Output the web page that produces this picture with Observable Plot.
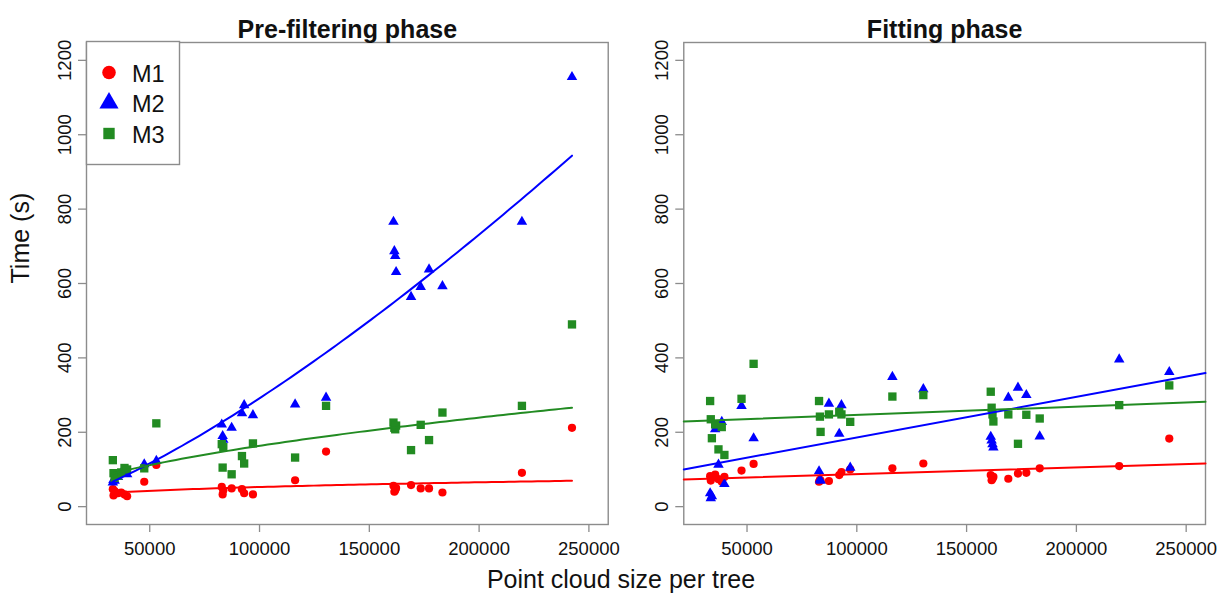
<!DOCTYPE html>
<html>
<head>
<meta charset="utf-8">
<script src="https://cdn.jsdelivr.net/npm/d3@7"></script>
<script src="https://cdn.jsdelivr.net/npm/@observablehq/plot@0.6"></script>
<style>
  body { margin: 0; background: #fff; }
  #chart { position: relative; width: 1227px; height: 598px; font-family: "Liberation Sans", Arial, Helvetica, sans-serif; color: #111; }
  #chart svg { display: block; }
  #legend { position: absolute; left: 0; top: 0; pointer-events: none; }
  #xlabel { position: absolute; left: 0; width: 1242px; top: 564px; text-align: center; font-size: 25px; line-height: 30px; }
</style>
</head>
<body>
<div id="chart"></div>
<script>
// Panels, methods and styling keys
const phases = ["Pre-filtering phase", "Fitting phase"];
const methods = ["M1", "M2", "M3"];
const methodColors = ["#ff0000", "#0000ff", "#228b22"];
const methodSymbols = ["circle", "triangle", "square"];

// Axis ticks
const xTicks = [50000, 100000, 150000, 200000, 250000];
const yTicks = [0, 200, 400, 600, 800, 1000, 1200];
const xLimits = [30000, 250000];
const yLimits = [0, 1200];

// Point cloud size of each tree
const treeSize = [33200, 33500, 34000, 35500, 37000, 38500, 39700, 47500, 53000,
  82800, 83200, 83500, 87300, 92000, 93000, 97000, 116200, 130300,
  161000, 161400, 161800, 162200, 169000, 173400, 177200, 183300, 219500, 242300];

// Processing time (s), pre-filtering phase
const preM1 = [47, 30, 42, 36, 38, 33, 28, 67, 112, 53, 33, 44, 49, 47, 36, 33, 71, 148,
  56, 40, 44, 50, 58, 49, 49, 38, 91, 212];
const preM2 = [65, 72, 70, 80, 90, 96, 87, 114, 123, 221, 190, 180, 212, 251, 273, 246, 275, 293,
  766, 687, 674, 631, 564, 591, 638, 593, 766, 1155];
const preM3 = [125, 90, 78, 83, 92, 104, 100, 103, 224, 168, 105, 160, 87, 136, 116, 170, 132, 271,
  226, 212, 208, 218, 152, 220, 179, 253, 271, 490];

// Processing time (s), fitting phase
const fitM1 = [82, 70, 78, 86, 74, 67, 80, 97, 115, 67, 72, 70, 69, 85, 93, 100, 103, 116,
  85, 71, 75, 80, 75, 89, 91, 103, 109, 183];
const fitM2 = [36, 23, 28, 208, 113, 228, 61, 271, 184, 95, 73, 70, 277, 196, 273, 105, 349, 316,
  188, 178, 168, 159, 293, 320, 300, 189, 396, 362];
const fitM3 = [284, 235, 184, 221, 154, 214, 139, 290, 384, 284, 242, 201, 248, 255, 248, 228, 296, 300,
  309, 266, 248, 229, 248, 169, 247, 237, 273, 326];

const seriesByPhase = [[preM1, preM2, preM3], [fitM1, fitM2, fitM3]];

// Long table: one row per tree, method and phase
const rows = [];
phases.forEach((phase, p) => {
  methods.forEach((method, m) => {
    seriesByPhase[p][m].forEach((t, i) => rows.push({phase, method, size: treeSize[i], time: t}));
  });
});

// R-style 4% axis padding
const pad = ([a, b]) => [a - 0.04 * (b - a), b + 0.04 * (b - a)];
const xDomain = pad(xLimits);
const yDomain = pad(yLimits);

// Least-squares helper
function lsq(xs, ys) {
  const mx = d3.mean(xs), my = d3.mean(ys);
  const sxy = d3.sum(xs, (x, i) => (x - mx) * (ys[i] - my));
  const sxx = d3.sum(xs, x => (x - mx) ** 2);
  const b = sxy / sxx;
  return {a: my - b * mx, b};
}

// Pre-filtering: power-law fit (log-log), drawn over the observed size range
const fitRows = [];
methods.forEach((method, m) => {
  const ys = seriesByPhase[0][m];
  const {a, b} = lsq(treeSize.map(Math.log), ys.map(Math.log));
  const [lo, hi] = d3.extent(treeSize);
  const n = 80;
  for (let k = 0; k <= n; ++k) {
    const x = lo + (hi - lo) * k / n;
    fitRows.push({phase: phases[0], method, size: x, time: Math.exp(a + b * Math.log(x))});
  }
});
// Fitting phase: straight-line fit, drawn across the whole panel
methods.forEach((method, m) => {
  const ys = seriesByPhase[1][m];
  const {a, b} = lsq(treeSize, ys);
  xDomain.forEach(x => fitRows.push({phase: phases[1], method, size: x, time: a + b * x}));
});

const pointSize = {circle: 4.1, triangle: 3.9, square: 4.7};
const grey = "#8c8c8c";

const chart = Plot.plot({
  width: 1227,
  height: 598,
  marginLeft: 86,
  marginRight: 22,
  marginTop: 42,
  marginBottom: 74,
  style: {fontFamily: '"Liberation Sans", Arial, Helvetica, sans-serif', fontSize: "18.5px", color: "#111", background: "#fff"},
  fx: {domain: phases, paddingInner: 0.1265, paddingOuter: 0, round: false, axis: null},
  x: {domain: xDomain},
  y: {domain: yDomain},
  marks: [
    Plot.frame({stroke: grey, strokeWidth: 1.4}),
    Plot.axisX({ticks: xTicks, tickFormat: d => String(d), tickSize: 8, tickPadding: 9,
      label: null, stroke: grey, strokeWidth: 1.3, fill: "#111", fontSize: 18.5}),
    Plot.axisY({ticks: yTicks, tickSize: 8, label: null, stroke: grey, strokeWidth: 1.3,
      text: null, facetAnchor: null}),
    Plot.axisY({ticks: yTicks, tickFormat: d => String(d), tickSize: 0, tickRotate: -90, tickPadding: 10,
      label: null, fill: "#111", fontSize: 18.5, dx: -6, facetAnchor: null}),
    ...methods.map((method, m) => Plot.dot(rows.filter(d => d.method === method), {
      x: "size", y: "time", fx: "phase",
      symbol: methodSymbols[m], r: pointSize[methodSymbols[m]],
      fill: methodColors[m], stroke: "none"
    })),
    ...methods.map((method, m) => Plot.line(fitRows.filter(d => d.method === method), {
      x: "size", y: "time", fx: "phase", z: "phase",
      stroke: methodColors[m], strokeWidth: 2
    })),
    Plot.text(phases, {fx: d => d, text: d => d, frameAnchor: "top", dy: -22,
      fontWeight: "bold", fontSize: 25, fill: "#111"}),
    Plot.text(["Time (s)"], {fx: () => phases[0], text: d => d, frameAnchor: "left", dx: -66,
      rotate: -90, fontSize: 25, fill: "#111"})
  ]
});

const root = document.getElementById("chart");
root.appendChild(chart);

// Legend box in the top-left corner of the first panel
const legend = d3.select(root).append("svg")
  .attr("id", "legend").attr("width", 1227).attr("height", 598);
legend.append("rect")
  .attr("x", 86.5).attr("y", 41.5).attr("width", 93).attr("height", 123)
  .attr("fill", "#fff").attr("stroke", grey).attr("stroke-width", 1.4);
const legendSymbolSize = {circle: 40 * 4, triangle: 44 * 4, square: 36 * 4};
const symbolType = {circle: d3.symbolCircle, triangle: d3.symbolTriangle, square: d3.symbolSquare};
methods.forEach((method, m) => {
  const cy = 72.5 + m * 30.5;
  legend.append("path")
    .attr("transform", `translate(109,${cy})`)
    .attr("d", d3.symbol(symbolType[methodSymbols[m]], legendSymbolSize[methodSymbols[m]] * 0.9)())
    .attr("fill", methodColors[m]);
  legend.append("text")
    .attr("x", 132).attr("y", cy + 9)
    .attr("font-size", 23.5)
    .attr("font-family", '"Liberation Sans", Arial, Helvetica, sans-serif')
    .attr("fill", "#111")
    .text(method);
});

// Shared x-axis title under both panels
const xlabel = document.createElement("div");
xlabel.id = "xlabel";
xlabel.textContent = "Point cloud size per tree";
root.appendChild(xlabel);
</script>
</body>
</html>
